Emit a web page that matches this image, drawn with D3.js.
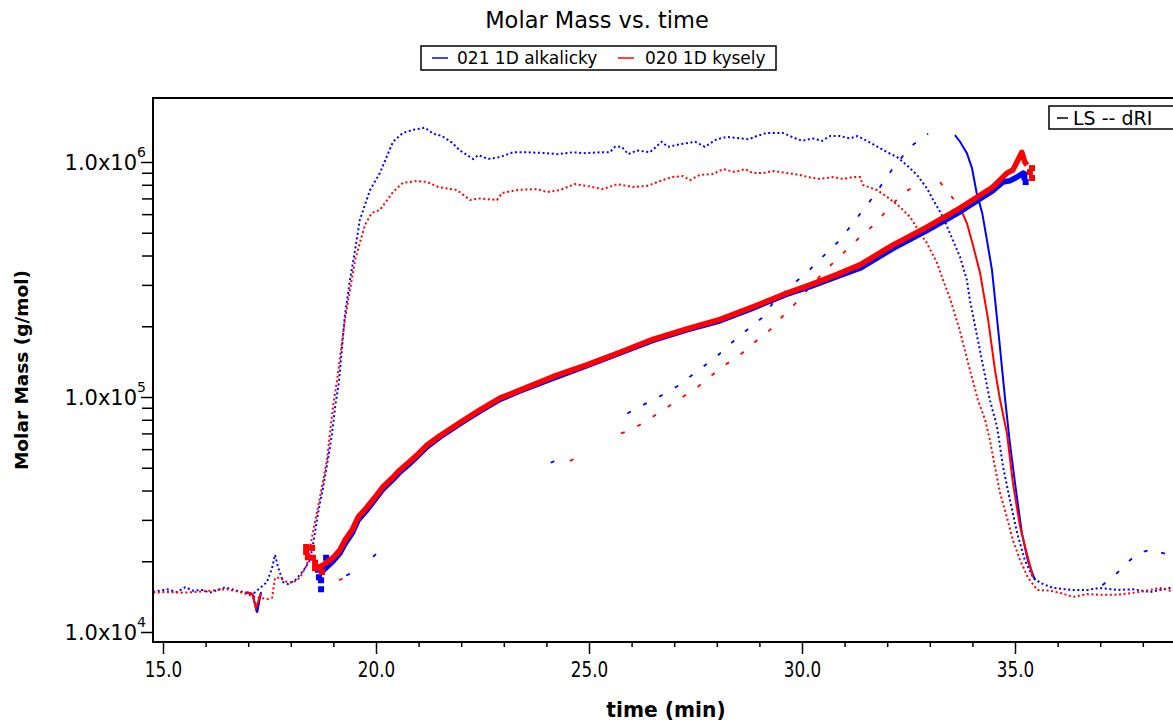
<!DOCTYPE html>
<html><head><meta charset="utf-8">
<script src="https://cdn.jsdelivr.net/npm/d3@7"></script>
<style>body{margin:0;background:#fff}svg{display:block}text{font-family:"DejaVu Sans","Open Sans",sans-serif}</style>
</head><body><svg id="c" width="1173" height="724"></svg>
<script>
// ---------------- DATA ----------------
const title = "Molar Mass vs. time";
const seriesNames = ["021 1D alkalicky", "020 1D kysely"];
const seriesColors = ["#0000ff", "#ff0000"];
const xMajorTicks = [15, 20, 25, 30, 35];
const xMinorTicks = [16,17,18,19,21,22,23,24,26,27,28,29,31,32,33,34,36,37,38,39];
const yMajorTicks = [1e4, 1e5, 1e6];
const yMinorTicks = [2e4,3e4,4e4,5e4,6e4,7e4,8e4,9e4,2e5,3e5,4e5,5e5,6e5,7e5,8e5,9e5];

// dotted traces [time (min), value]
const blueDotted = [[14.77,1.48e4],[15.09,1.52e4],[15.33,1.48e4],[15.52,1.55e4],[15.7,1.50e4],[15.92,1.51e4],[16.1,1.47e4],[16.46,1.55e4],[16.74,1.50e4],[16.97,1.47e4],[17.11,1.45e4],[17.28,1.54e4],[17.44,1.63e4],[17.56,1.87e4],[17.63,2.13e4],[17.7,1.89e4],[17.82,1.63e4],[17.93,1.60e4],[18.1,1.66e4],[18.29,1.82e4],[18.45,2.02e4],[18.52,2.34e4],[18.64,3.21e4],[18.76,4.14e4],[18.87,5.40e4],[18.97,7.03e4],[19.04,9.06e4],[19.13,1.16e5],[19.27,2.23e5],[19.39,3.16e5],[19.51,4.23e5],[19.62,5.66e5],[19.74,6.56e5],[19.86,7.59e5],[20.09,8.97e5],[20.4,1.22e6],[20.63,1.33e6],[20.87,1.37e6],[21.15,1.40e6],[21.34,1.32e6],[21.55,1.29e6],[21.78,1.21e6],[21.97,1.12e6],[22.28,1.03e6],[22.4,1.07e6],[22.63,1.03e6],[22.91,1.05e6],[23.22,1.10e6],[23.57,1.10e6],[24.01,1.09e6],[24.27,1.08e6],[24.62,1.10e6],[24.86,1.09e6],[25.26,1.10e6],[25.49,1.10e6],[25.61,1.16e6],[25.77,1.16e6],[25.92,1.08e6],[26.13,1.12e6],[26.43,1.10e6],[26.71,1.22e6],[26.85,1.16e6],[27.14,1.19e6],[27.49,1.22e6],[27.72,1.16e6],[28.0,1.25e6],[28.24,1.28e6],[28.54,1.26e6],[28.75,1.25e6],[28.94,1.29e6],[29.18,1.33e6],[29.55,1.33e6],[29.76,1.28e6],[30.0,1.23e6],[30.26,1.26e6],[30.47,1.23e6],[30.66,1.29e6],[30.89,1.29e6],[31.13,1.26e6],[31.3,1.29e6],[31.41,1.26e6],[31.6,1.21e6],[32.0,1.10e6],[32.23,1.05e6],[32.46,9.70e5],[32.7,8.81e5],[32.93,7.74e5],[33.08,6.89e5],[33.31,5.83e5],[33.47,4.99e5],[33.71,3.94e5],[33.87,3.15e5],[33.94,2.59e5],[34.41,9.70e4],[34.58,7.45e4],[34.72,5.04e4],[34.88,3.65e4],[35.05,2.64e4],[35.23,2.02e4],[35.42,1.71e4],[35.59,1.62e4],[35.89,1.54e4],[36.36,1.51e4],[36.7,1.51e4],[37.0,1.54e4],[37.4,1.51e4],[37.77,1.52e4],[38.17,1.48e4],[38.64,1.54e4],[38.9,1.51e4]];
const redDotted = [[14.77,1.47e4],[15.09,1.48e4],[15.4,1.47e4],[15.8,1.48e4],[16.27,1.51e4],[16.5,1.52e4],[16.8,1.48e4],[17.11,1.42e4],[17.28,1.40e4],[17.44,1.38e4],[17.56,1.40e4],[17.63,1.70e4],[17.75,1.70e4],[17.91,1.63e4],[18.05,1.62e4],[18.22,1.71e4],[18.38,1.93e4],[18.5,2.54e4],[18.61,3.21e4],[18.73,4.14e4],[18.85,5.40e4],[18.92,7.03e4],[18.99,9.06e4],[19.08,1.16e5],[19.27,2.13e5],[19.51,3.83e5],[19.74,5.40e5],[19.9,6.07e5],[20.09,6.25e5],[20.4,7.45e5],[20.63,8.15e5],[20.96,8.30e5],[21.2,8.22e5],[21.46,7.83e5],[21.9,7.60e5],[22.21,6.89e5],[22.44,7.00e5],[22.84,6.89e5],[22.96,7.38e5],[23.31,7.60e5],[23.78,7.67e5],[24.01,7.45e5],[24.32,7.60e5],[24.67,8.05e5],[24.95,7.91e5],[25.33,7.67e5],[25.66,8.05e5],[26.03,7.83e5],[26.36,7.91e5],[26.67,8.30e5],[26.95,8.63e5],[27.21,8.71e5],[27.37,8.38e5],[27.6,8.81e5],[27.91,8.89e5],[28.15,9.33e5],[28.43,9.06e5],[28.66,9.33e5],[28.85,8.97e5],[29.08,8.97e5],[29.32,9.16e5],[29.65,8.97e5],[29.95,8.81e5],[30.14,8.63e5],[30.42,8.47e5],[30.73,8.63e5],[30.96,8.47e5],[31.2,8.63e5],[31.36,8.63e5],[31.43,7.98e5],[31.76,7.60e5],[32.0,7.10e5],[32.3,6.44e5],[32.54,5.83e5],[32.77,4.99e5],[32.93,4.52e5],[33.17,3.72e5],[33.31,3.15e5],[33.47,2.64e5],[33.7,1.93e5],[33.92,1.35e5],[34.13,9.70e4],[34.3,7.98e4],[34.41,6.56e4],[34.53,5.04e4],[34.65,3.90e4],[34.81,3.08e4],[34.95,2.46e4],[35.12,2.02e4],[35.3,1.71e4],[35.52,1.51e4],[35.82,1.50e4],[36.1,1.46e4],[36.36,1.41e4],[36.7,1.45e4],[37.0,1.44e4],[37.4,1.44e4],[37.93,1.48e4],[38.4,1.54e4],[38.64,1.50e4],[38.9,1.51e4]];

// dRI (dashed), null = gap
const blueDRI = [[19.3,1.74e4],[19.42,1.78e4],null,[19.93,2.09e4],[20.12,2.24e4],null,[24.1,5.25e4],[24.28,5.43e4],null,[25.9,8.51e4],[26.15,9.02e4],[26.6,9.91e4],[27.07,1.11e5],[28.0,1.49e5],[28.47,1.78e5],[29.06,2.17e5],[29.3,2.49e5],[29.79,3.02e5],[30.1,3.37e5],[30.9,4.68e5],[31.67,7.10e5],[32.14,9.42e5],[32.54,1.16e6],[32.96,1.32e6],null,[37.05,1.58e4],[37.35,1.75e4],[37.7,2.02e4],[37.9,2.17e4],[38.2,2.24e4],[38.5,2.16e4],[38.8,2.04e4]];
const redDRI = [[19.13,1.66e4],[19.25,1.70e4],null,[24.55,5.35e4],[24.7,5.50e4],null,[25.75,7.00e4],[26.0,7.24e4],[26.6,8.47e4],[27.54,1.10e5],[28.12,1.34e5],[28.6,1.54e5],[28.87,1.70e5],[29.25,1.93e5],[29.53,2.19e5],[29.79,2.44e5],[30.5,3.39e5],[31.36,4.79e5],[31.67,5.37e5],[32.11,6.56e5],[32.37,7.38e5],[32.7,7.98e5],null,[33.24,8.22e5],[33.52,7.10e5],[33.7,6.46e5]];

// LS (solid), null = gap
const blueLS = [[16.97,1.47e4],[17.1,1.45e4],[17.21,1.21e4],[17.3,1.48e4],null,[33.59,1.30e6],[33.71,1.22e6],[33.87,1.09e6],[33.99,9.42e5],[34.1,7.38e5],[34.23,6.07e5],[34.34,4.66e5],[34.46,3.47e5],[34.62,1.82e5],[34.77,9.70e4],[34.88,6.37e4],[35.0,4.31e4],[35.16,2.64e4],[35.3,2.02e4],[35.47,1.66e4]];
const redLS = [[16.97,1.48e4],[17.1,1.45e4],[17.18,1.26e4],[17.3,1.46e4],null,[33.7,6.46e5],[33.87,5.50e5],[34.0,4.52e5],[34.18,3.37e5],[34.37,2.13e5],[34.53,1.30e5],[34.65,9.70e4],[34.81,7.03e4],[34.95,4.31e4],[35.12,2.80e4],[35.3,2.08e4],[35.42,1.71e4]];

// molar mass (g/mol)
const blueMM = [[18.75,1.82e4],[18.99,2.0e4],[19.15,2.16e4],[19.27,2.37e4],[19.44,2.63e4],[19.58,2.99e4],[19.79,3.31e4],[19.98,3.67e4],[20.16,4.05e4],[20.38,4.42e4],[20.56,4.79e4],[20.75,5.13e4],[20.96,5.56e4],[21.2,6.14e4],[21.5,6.76e4],[22.0,7.76e4],[22.44,8.71e4],[22.91,9.77e4],[23.38,1.06e5],[24.15,1.20e5],[24.95,1.36e5],[25.73,1.54e5],[26.5,1.74e5],[27.3,1.93e5],[28.08,2.11e5],[28.85,2.39e5],[29.65,2.74e5],[30.19,2.95e5],[30.8,3.24e5],[31.36,3.53e5],[32.14,4.29e5],[32.93,5.11e5],[33.71,6.14e5],[34.48,7.55e5],[34.72,8.22e5],[34.88,8.32e5],[35.05,8.63e5],[35.19,8.97e5],[35.28,8.81e5]];
const redMM = [[18.61,1.87e4],[18.76,1.93e4],[18.99,2.07e4],[19.15,2.23e4],[19.27,2.46e4],[19.44,2.72e4],[19.58,3.08e4],[19.79,3.40e4],[19.98,3.75e4],[20.16,4.14e4],[20.38,4.52e4],[20.56,4.89e4],[20.75,5.24e4],[20.96,5.66e4],[21.2,6.25e4],[21.5,6.84e4],[22.0,7.85e4],[22.44,8.81e4],[22.91,9.89e4],[23.38,1.07e5],[24.15,1.22e5],[24.95,1.37e5],[25.73,1.55e5],[26.5,1.76e5],[27.3,1.95e5],[28.08,2.14e5],[28.85,2.42e5],[29.65,2.77e5],[30.19,3.00e5],[30.8,3.31e5],[31.36,3.65e5],[32.14,4.44e5],[32.93,5.28e5],[33.71,6.37e5],[34.48,7.83e5],[34.81,8.97e5],[34.95,9.25e5],[35.07,1.02e6],[35.16,1.10e6],[35.23,1.0e6],[35.28,9.70e5]];
const blueMMScatter = [[18.66,1.71e4],[18.71,1.66e4],[18.71,1.52e4],[18.83,2.07e4],[18.64,1.84e4],[35.25,8.22e5],[35.22,8.6e5]];
const redMMScatter = [[18.36,2.30e4],[18.36,2.19e4],[18.5,2.28e4],[18.4,2.08e4],[18.57,1.97e4],[18.52,2.07e4],[18.57,1.87e4],[18.73,1.80e4],[35.4,9.42e5],[35.4,8.55e5],[35.35,9.06e5]];

// ---------------- CHART ----------------
const svg = d3.select("#c");
const L = 153, T = 98, B = 642, R = 1200;
const x = d3.scaleLinear().domain([15, 35]).range([163, 1015]);
const y = d3.scaleLog().domain([1e4, 1e6]).range([632, 162]);

svg.append("defs").append("clipPath").attr("id","clip")
  .append("rect").attr("x",L).attr("y",T).attr("width",R-L).attr("height",B-T);

const plot = svg.append("g").attr("clip-path","url(#clip)");
const line = d3.line().defined(d => d != null).x(d => x(d[0])).y(d => y(d[1]));

// dotted traces
[[blueDotted,0],[redDotted,1]].forEach(([d,i]) => {
  plot.append("path").attr("d", line(d)).attr("fill","none")
    .attr("stroke", seriesColors[i]).attr("stroke-width",2).attr("stroke-dasharray","2,2.6");
});
// dRI dashed
[[blueDRI,0],[redDRI,1]].forEach(([d,i]) => {
  plot.append("path").attr("d", line(d)).attr("fill","none")
    .attr("stroke", seriesColors[i]).attr("stroke-width",1.8).attr("stroke-dasharray","4,14");
});
// LS solid
[[blueLS,0],[redLS,1]].forEach(([d,i]) => {
  plot.append("path").attr("d", line(d)).attr("fill","none")
    .attr("stroke", seriesColors[i]).attr("stroke-width",2);
});
// molar mass bands
[[blueMM,blueMMScatter,0],[redMM,redMMScatter,1]].forEach(([d,s,i]) => {
  plot.append("path").attr("d", line(d)).attr("fill","none")
    .attr("stroke", seriesColors[i]).attr("stroke-width",5.5).attr("stroke-linejoin","round");
  plot.selectAll(null).data(s).enter().append("rect")
    .attr("x", p => x(p[0]) - 3).attr("y", p => y(p[1]) - 3)
    .attr("width",6).attr("height",6).attr("fill", seriesColors[i]);
});

// frame
svg.append("rect").attr("x",L).attr("y",T).attr("width",R-L).attr("height",B-T)
  .attr("fill","none").attr("stroke","#000").attr("stroke-width",2);

// x axis
const gxMinor = svg.append("g").attr("transform",`translate(0,${B})`)
  .call(d3.axisBottom(x).tickValues(xMinorTicks).tickSize(5).tickFormat(""));
const gx = svg.append("g").attr("transform",`translate(0,${B})`)
  .call(d3.axisBottom(x).tickValues(xMajorTicks).tickSize(12).tickFormat(d3.format(".1f")));
[gxMinor,gx].forEach(g => { g.select(".domain").remove(); g.selectAll("line").attr("stroke","#000").attr("stroke-width",1.5); });
gx.selectAll("text").attr("y",20).attr("font-size",21).attr("fill","#000")
  .attr("font-family","'Open Sans',sans-serif").attr("transform","scale(0.8,1)");

// y axis
const gyMinor = svg.append("g").attr("transform",`translate(${L},0)`)
  .call(d3.axisLeft(y).tickValues(yMinorTicks).tickSize(11).tickFormat(""));
const gy = svg.append("g").attr("transform",`translate(${L},0)`)
  .call(d3.axisLeft(y).tickValues(yMajorTicks).tickSize(12).tickFormat(""));
[gyMinor,gy].forEach(g => { g.select(".domain").remove(); g.selectAll("line").attr("stroke","#000").attr("stroke-width",1.5); });
gy.selectAll(".tick").each(function(d){
  const t = d3.select(this).append("text").attr("x",-7).attr("dy","0.36em")
    .attr("text-anchor","end").attr("fill","#000").attr("font-size",21)
    .attr("font-family","'DejaVu Sans',sans-serif");
  t.append("tspan").text("1.0x10");
  t.append("tspan").attr("font-size",14).attr("dy","-0.95em").text(Math.round(Math.log10(d)));
});

// titles
svg.append("text").attr("x",597).attr("y",28).attr("text-anchor","middle")
  .attr("font-size",22.5).attr("fill","#000").text(title);
svg.append("text").attr("transform","translate(28,370) rotate(-90)").attr("text-anchor","middle")
  .attr("font-family","'Open Sans',sans-serif")
  .attr("font-size",18.5).attr("font-weight","bold").attr("fill","#000").text("Molar Mass (g/mol)");
svg.append("text").attr("transform","translate(666,717) scale(0.92,1)").attr("text-anchor","middle")
  .attr("font-family","'Open Sans',sans-serif")
  .attr("font-size",22).attr("font-weight","bold").attr("fill","#000").text("time (min)");

// top legend
const lg = svg.append("g");
lg.append("rect").attr("x",421).attr("y",46).attr("width",355).attr("height",24)
  .attr("fill","#fff").attr("stroke","#000").attr("stroke-width",1.5);
const legX = [[432,457],[618,645]];
seriesNames.forEach((n,i) => {
  lg.append("line").attr("x1",legX[i][0]).attr("x2",legX[i][0]+16).attr("y1",58).attr("y2",58)
    .attr("stroke",seriesColors[i]).attr("stroke-width",1.5);
  lg.append("text").attr("x",legX[i][1]).attr("y",64).attr("font-size",17).attr("fill","#000").text(n);
});

// LS / dRI legend
const lg2 = svg.append("g");
lg2.append("rect").attr("x",1049).attr("y",106).attr("width",140).attr("height",23)
  .attr("fill","#fff").attr("stroke","#000").attr("stroke-width",1.5);
lg2.append("line").attr("x1",1057).attr("x2",1068).attr("y1",118).attr("y2",118).attr("stroke","#000").attr("stroke-width",1.5);
lg2.append("text").attr("x",1073).attr("y",125).attr("font-size",19).attr("fill","#000").text("LS -- dRI");
</script></body></html>
